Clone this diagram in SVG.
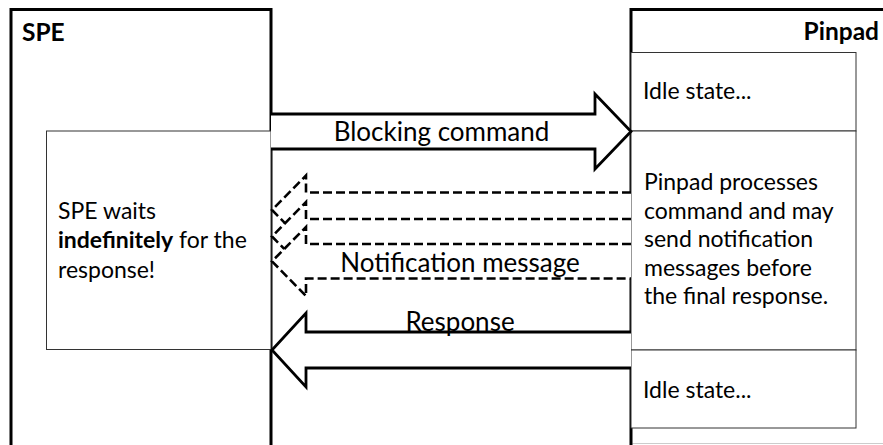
<svg xmlns="http://www.w3.org/2000/svg" width="883" height="445" viewBox="0 0 883 445">
<style>
.outer{fill:#fff;stroke:#000;stroke-width:3}
.inner{fill:#fff;stroke:#333;stroke-width:1}
.arrow{fill:#fff;stroke:#000;stroke-width:2.8;stroke-linejoin:miter}
.dash{fill:#fff;stroke:#000;stroke-width:2.6;stroke-dasharray:9 4}
text{font-family:Lato,"Liberation Sans",sans-serif;fill:#000}
.title{font-size:24.5px;font-weight:bold}
.body{font-size:23px}
.lbl{font-size:26px;text-anchor:middle}
</style>
<rect x="0" y="0" width="883" height="445" fill="#fff"/>
<line x1="12" y1="443.5" x2="270" y2="443.5" stroke="#ccc" stroke-width="1"/>
<line x1="632" y1="443.5" x2="883" y2="443.5" stroke="#ccc" stroke-width="1"/>
<g id="spe">
<path class="outer" d="M11,446 V9.5 H271 V446"/>
<rect class="inner" x="46.5" y="131" width="224.5" height="218.5"/>
<text class="title" x="22" y="41">SPE</text>
<text class="body" x="58" y="219">SPE waits</text>
<text class="body" x="58" y="248"><tspan font-weight="bold">indefinitely</tspan> for the</text>
<text class="body" x="58" y="278">response!</text>
</g>
<g id="pinpad">
<path class="outer" d="M631,446 V9.5 H886"/>
<rect class="inner" x="631" y="52.5" width="225" height="78.5"/>
<rect class="inner" x="631" y="131" width="225" height="219"/>
<rect class="inner" x="631" y="350" width="225" height="78"/>
<text class="title" x="879" y="40" text-anchor="end">Pinpad</text>
<text class="body" x="643" y="99">Idle state...</text>
<text class="body" x="644" y="190">Pinpad processes</text>
<text class="body" x="644" y="218.5">command and may</text>
<text class="body" x="644" y="247">send notification</text>
<text class="body" x="644" y="275.5">messages before</text>
<text class="body" x="644" y="304">the final response.</text>
<text class="body" x="643" y="398">Idle state...</text>
</g>
<g id="connectors">
<path class="arrow" d="M271,114 H595 V94 L631,131.5 L595,169 V149 H271"/>
<text class="lbl" x="441.5" y="141">Blocking command</text>
<path class="dash" d="M631,192.5 H306 V175.5 L272,210 L306,244.5 V227.5 H631"/>
<path class="dash" d="M631,219 H306 V202 L272,236.5 L306,271 V254 H631"/>
<path class="dash" d="M631,244 H306 V227 L272,261.3 L306,296 V278.5 H631"/>
<text class="lbl" x="460" y="272">Notification message</text>
<path class="arrow" d="M631,332 H306 V313 L272,350 L306,387 V368 H631"/>
<text class="lbl" x="460" y="331">Response</text>
</g>
</svg>
